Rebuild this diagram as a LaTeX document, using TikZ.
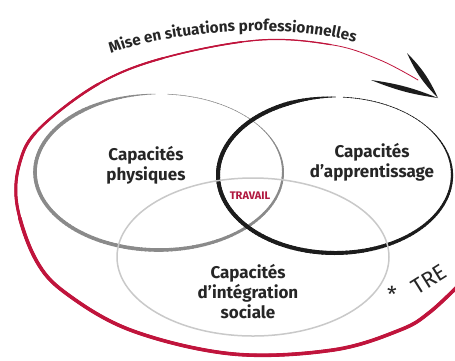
\documentclass[tikz,border=0pt]{standalone}
\usepackage{fontspec}
\usepackage{graphicx}
\setmainfont{Fira Sans}
\usetikzlibrary{decorations.text}
\definecolor{redc}{HTML}{C0143C}
\definecolor{travc}{HTML}{B0183F}
\definecolor{grayc}{HTML}{8A8A8A}
\definecolor{blackc}{HTML}{1C1C1C}
\definecolor{lightc}{HTML}{C9C9C9}
\tikzset{
  capalabel/.style={font=\bfseries\fontsize{17}{20}\selectfont, align=center, text=black!85},
  brush/.style={line cap=round},
  redarc/.style={redc, line cap=round},
}
\newcommand{\redpath}{plot[smooth, tension=0.6] coordinates {(462,282) (430,312) (400,330) (333,350) (233,354) (133,331) (67,294) (36,260) (17,205) (20,162) (40,128) (100,83) (167,57) (260,40) (333,45) (380,60) (418,80)}}
\begin{document}
\begin{tikzpicture}[x=1pt,y=-1pt]
\useasboundingbox (0,0) rectangle (455,360);
\fill[white] (0,0) rectangle (455,360);
% outer red arc, tapering towards the arrow
\draw[redarc, line width=0.8pt] \redpath;
\draw[redarc, line width=1.2pt, dash pattern=on 930pt off 3000pt] \redpath;
\draw[redarc, line width=1.6pt, dash pattern=on 840pt off 3000pt] \redpath;
\draw[redarc, line width=2.0pt, dash pattern=on 760pt off 3000pt] \redpath;
\draw[redarc, line width=2.5pt, dash pattern=on 690pt off 3000pt] \redpath;
\draw[redarc, line width=3.0pt, dash pattern=on 610pt off 3000pt] \redpath;
\draw[redarc, line width=3.6pt, dash pattern=on 520pt off 3000pt] \redpath;
% arrowhead
\coordinate (tip) at (438,98);
\coordinate (au) at (407,53);
\coordinate (al) at (371,80);
\fill[blackc] (au) to[bend left=10] (tip) to[bend left=10] (au);
\fill[blackc] (al) to[bend left=7] (tip) to[bend left=7] (al);
% gray ellipse (physiques)
\foreach \a in {0,2,...,358}{
  \pgfmathsetmacro\w{\a<90 ? 2+1.6*\a/90 : (\a<230 ? 3.6 : (\a<267 ? 3.6-3.1*(\a-230)/37 : (\a<273 ? 0 : (\a<320 ? 0.5 : 0.5+1.5*(\a-320)/40))))}
  \ifdim\w pt>0.01pt
  \draw[grayc, brush, line width=\w pt] ({159+124*cos(\a)},{172+78*sin(\a)}) arc[start angle=\a, end angle=\a+2.3, x radius=124, y radius=78];
  \fi
}
% black ellipse (apprentissage)
\foreach \a in {0,2,...,358}{
  \pgfmathsetmacro\w{\a<90 ? 2.2+1.8*\a/90 : (\a<245 ? 4 : (\a<269 ? 4-3.4*(\a-245)/24 : (\a<273 ? 0 : (\a<320 ? 0.6 : 0.6+1.6*(\a-320)/40))))}
  \ifdim\w pt>0.01pt
  \draw[blackc, brush, line width=\w pt] ({335+117*cos(\a)},{175+78*sin(\a)}) arc[start angle=\a, end angle=\a+2.3, x radius=117, y radius=78];
  \fi
}
% light ellipse (sociale)
\draw[lightc, line width=1.5pt] (253,257) ellipse[x radius=136, y radius=79];
% labels
\node[capalabel] (phys) at (146,165) {Capacités\\physiques};
\node[capalabel] (appr) at (372,162) {Capacités\\d’apprentissage};
\node[capalabel] (soc) at (248,292) {Capacités\\d’intégration\\sociale};
\node[font=\bfseries\fontsize{11}{11}\selectfont, text=travc] (trav) at (250,196) {TRAVAIL};
\node[font=\fontsize{22}{22}\selectfont, text=black!85, inner sep=0pt] (star) at (392,294) {*};
\node[font=\fontsize{22}{22}\selectfont, text=black!85, inner sep=0pt] (tre) at (429,279) {\rotatebox{32}{TRE}};
% curved title
\path[decorate, decoration={text along path, text align=left,
  text={|\bfseries\fontsize{15.3}{15.3}\selectfont\color{black!85}|Mise en situations professionnelles}}]
  (111,54) .. controls (185,25) and (320,23) .. (374,50);
\end{tikzpicture}
\end{document}
